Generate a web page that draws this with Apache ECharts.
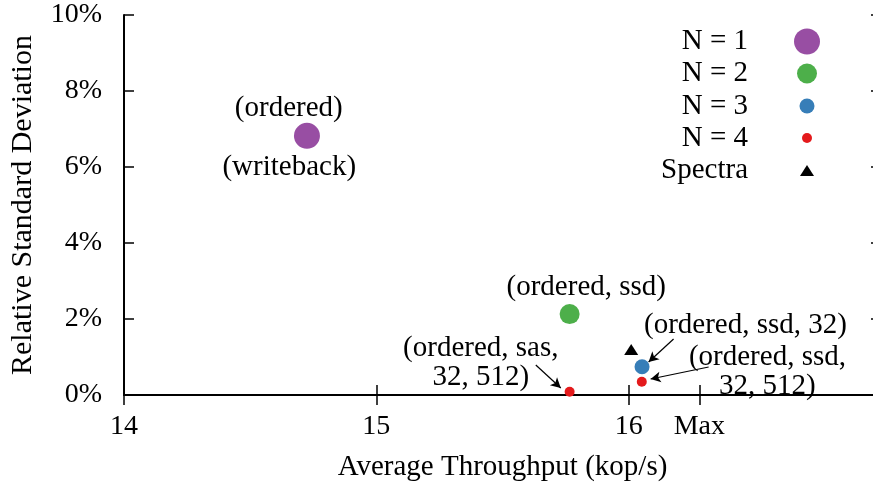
<!DOCTYPE html>
<html>
<head>
<meta charset="utf-8">
<script src="https://cdn.jsdelivr.net/npm/echarts@6/dist/echarts.min.js"></script>
<style>
  html, body { margin: 0; padding: 0; background: #fff; }
  #main { width: 873px; height: 486px; }
</style>
</head>
<body>
<div id="main"></div>
<script>
// series data: [throughput (kop/s), relative std dev (%)]
var seriesNames = ['N = 1', 'N = 2', 'N = 3', 'N = 4', 'Spectra'];
var seriesColors = ['#984ea3', '#4daf4a', '#377eb8', '#e41a1c', '#000000'];
var n1Points = [[14.725, 6.82]];
var n2Points = [[15.766, 2.13]];
var n3Points = [[16.053, 0.745]];
var n4Points = [[15.766, 0.087], [16.052, 0.35]];
var spectraPoints = [[16.01, 1.2]];

// x ticks (the last one marks the maximum throughput)
var xTickValues = [14, 15, 16, 16.28];
var xTickLabels = ['14', '15', '16', 'Max'];

// annotations
var noteTexts = ['(ordered)', '(writeback)', '(ordered, ssd)', '(ordered, ssd, 32)',
    '(ordered, sas,\n32, 512)', '(ordered, ssd,\n32, 512)'];
var notePositions = [[14.653, 7.55], [14.655, 6.0], [15.832, 2.82], [16.463, 1.84],
    [15.414, 0.855], [16.55, 0.618]];
var arrowStarts = [[15.632, 0.789], [16.178, 1.474], [16.317, 0.737]];
var arrowEnds = [[15.731, 0.184], [16.079, 0.868], [16.087, 0.421]];

var FONT = 'Liberation Serif';
var chartDom = document.getElementById('main');
var myChart = echarts.init(chartDom, null, { renderer: 'canvas' });

var symbolSizes = [26, 20, 15, 10, [14, 11]];
var symbols = ['circle', 'circle', 'circle', 'circle', 'triangle'];
var pointSets = [n1Points, n2Points, n3Points, n4Points, spectraPoints];

// one legend per entry so every key symbol keeps its own size
var legendRows = [41.5, 73.5, 106, 138, 170.5];
var legends = seriesNames.map(function (name, i) {
    var w = Array.isArray(symbolSizes[i]) ? symbolSizes[i][0] : symbolSizes[i];
    var h = Array.isArray(symbolSizes[i]) ? symbolSizes[i][1] : symbolSizes[i];
    return {
        data: [name],
        orient: 'vertical',
        align: 'right',
        right: 873 - (807 + w / 2),
        top: legendRows[i] - 15,
        padding: 0,
        itemWidth: w,
        itemHeight: h,
        selectedMode: false,
        textStyle: {
            fontFamily: FONT,
            fontSize: 29,
            lineHeight: 30,
            color: '#000',
            padding: [0, 54 - w / 2, 0, 0]
        }
    };
});

var series = seriesNames.map(function (name, i) {
    return {
        name: name,
        type: 'scatter',
        symbol: symbols[i],
        symbolSize: symbolSizes[i],
        itemStyle: { color: seriesColors[i], opacity: 1 },
        data: pointSets[i],
        z: 3
    };
});

series.push({
    name: 'notes',
    type: 'scatter',
    symbolSize: 1,
    silent: true,
    itemStyle: { color: 'rgba(0,0,0,0)' },
    emphasis: { disabled: true },
    label: {
        show: true,
        position: 'inside',
        formatter: function (p) { return p.name; },
        fontFamily: FONT,
        fontSize: 29,
        lineHeight: 29,
        color: '#000',
        opacity: 1,
        textBorderWidth: 0,
        align: 'center'
    },
    data: notePositions.map(function (p, i) {
        return { name: noteTexts[i], value: p };
    }),
    markLine: {
        silent: true,
        symbol: ['none', 'arrow'],
        symbolSize: [8, 10],
        label: { show: false },
        lineStyle: { color: '#000', width: 1.2, type: 'solid' },
        data: arrowStarts.map(function (s, i) {
            return [{ coord: s }, { coord: arrowEnds[i] }];
        })
    },
    z: 4
});

var axisLine = { show: true, lineStyle: { color: '#000', width: 2 } };
var tickStyle = { color: '#000', width: 1.5 };

var option = {
    animation: false,
    // the right border sits just outside the canvas, like the original
    grid: { left: 124, width: 757, top: 15, bottom: 91, outerBoundsMode: 'none' },
    legend: legends,
    xAxis: [
        {
            type: 'value',
            min: 14,
            max: 17,
            position: 'bottom',
            axisLine: axisLine,
            splitLine: { show: false },
            axisTick: { show: true, inside: true, length: 10, lineStyle: tickStyle, customValues: xTickValues },
            axisLabel: {
                customValues: xTickValues,
                margin: 18,
                fontFamily: FONT,
                fontSize: 28,
                color: '#000',
                formatter: function (v) {
                    var k = xTickValues.indexOf(v);
                    return k >= 0 ? xTickLabels[k] : '';
                }
            },
            name: 'Average Throughput (kop/s)',
            nameLocation: 'middle',
            nameGap: 58,
            nameTextStyle: { fontFamily: FONT, fontSize: 29, color: '#000' }
        },
        {
            type: 'value',
            min: 14,
            max: 17,
            position: 'top',
            axisLine: axisLine,
            splitLine: { show: false },
            axisTick: { show: true, inside: true, length: 10, lineStyle: tickStyle, customValues: xTickValues },
            axisLabel: { show: false }
        }
    ],
    yAxis: [
        {
            type: 'value',
            min: 0,
            max: 10,
            interval: 2,
            position: 'left',
            axisLine: axisLine,
            splitLine: { show: false },
            axisTick: { show: true, inside: true, length: 10, lineStyle: tickStyle },
            axisLabel: {
                margin: 22,
                fontFamily: FONT,
                fontSize: 28,
                color: '#000',
                formatter: '{value}%'
            },
            name: 'Relative Standard Deviation',
            nameLocation: 'middle',
            nameRotate: 90,
            nameGap: 86,
            nameTextStyle: { fontFamily: FONT, fontSize: 30, color: '#000' }
        },
        {
            type: 'value',
            min: 0,
            max: 10,
            interval: 2,
            position: 'right',
            axisLine: axisLine,
            splitLine: { show: false },
            axisTick: { show: true, inside: true, length: 10, lineStyle: tickStyle },
            axisLabel: { show: false }
        }
    ],
    series: series
};

option && myChart.setOption(option);

window.addEventListener('resize', function () {
    myChart.resize();
});
</script>
</body>
</html>
